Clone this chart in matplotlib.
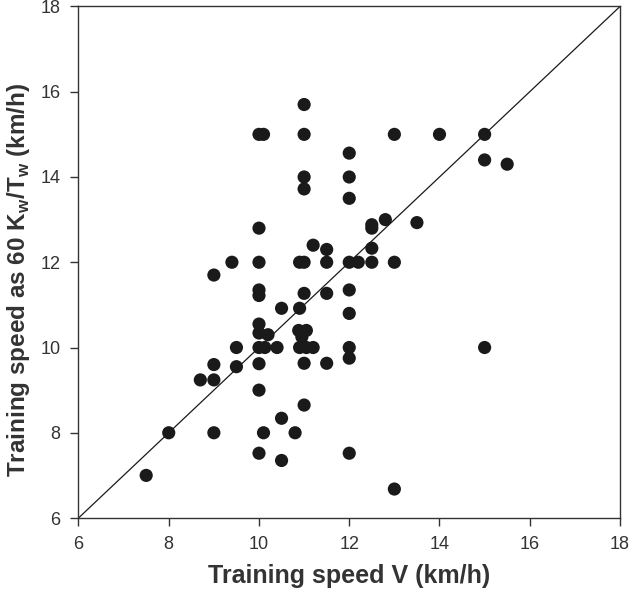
import matplotlib
matplotlib.use("Agg")
import matplotlib.pyplot as plt

plt.rcParams['font.family'] = ['Liberation Sans', 'DejaVu Sans']
plt.rcParams['mathtext.fontset'] = 'custom'
plt.rcParams['mathtext.bf'] = 'Liberation Sans:bold'
plt.rcParams['mathtext.rm'] = 'Liberation Sans'

speed_v = [7.5, 8.0, 8.7, 9.0, 9.0, 9.0, 9.0, 9.4, 9.5, 9.5,
           10.0, 10.1, 10.0, 10.0, 10.0, 10.0, 10.0, 10.0, 10.2, 10.0,
           10.13, 10.0, 10.0, 10.0, 10.1, 10.4, 10.5, 10.5, 10.5, 10.8,
           10.9, 10.88, 11.05, 10.95, 10.9, 11.05, 11.2, 11.0, 11.0, 11.0,
           11.0, 11.0, 11.0, 10.9, 11.0, 11.2, 11.0, 11.5, 11.5, 11.5,
           11.5, 12.0, 12.0, 12.0, 12.0, 12.2, 12.0, 12.0, 12.0, 12.0,
           12.0, 12.5, 12.5, 12.5, 12.5, 12.8, 13.0, 13.0, 13.0, 13.5,
           14.0, 15.0, 15.0, 15.5, 15.0]
speed_kw = [7.0, 8.0, 9.24, 9.24, 9.6, 8.0, 11.7, 12.0, 10.0, 9.55,
            15.0, 15.0, 12.8, 12.0, 11.35, 11.22, 10.55, 10.34, 10.3, 10.0,
            10.0, 9.62, 9.0, 7.52, 8.0, 10.0, 10.92, 8.34, 7.35, 8.0,
            10.92, 10.4, 10.4, 10.25, 10.0, 10.0, 10.0, 9.63, 8.65, 15.7,
            15.0, 14.0, 13.72, 12.0, 12.0, 12.4, 11.27, 11.27, 12.3, 12.0,
            9.63, 14.56, 14.0, 13.5, 12.0, 12.0, 11.35, 10.8, 10.0, 9.75,
            7.52, 12.88, 12.8, 12.33, 12.0, 13.0, 15.0, 12.0, 6.68, 12.93,
            15.0, 15.0, 14.4, 14.3, 10.0]
identity = [6, 18]
ticks = [6, 8, 10, 12, 14, 16, 18]

fig = plt.figure(figsize=(6.3, 5.89), dpi=100)
ax = fig.add_axes([0.1246, 0.1205, 0.8595, 0.8685])
ax.plot(identity, identity, color='#1a1a1a', lw=0.9, zorder=1)
ax.scatter(speed_v, speed_kw, s=90, color='#1a1a1a', edgecolors='none', zorder=2)
ax.set_xlim(6, 18)
ax.set_ylim(6, 18)
ax.set_xticks(ticks)
ax.set_yticks(ticks)
ax.tick_params(direction='out', length=6, width=1, labelsize=13, color='#333333',
               labelcolor='#333333', pad=7)
for s in ax.spines.values():
    s.set_linewidth(1.0)
    s.set_color('#333333')
ax.set_xlabel('Training speed V (km/h)', fontsize=18, fontweight='bold', color='#333333', labelpad=8)
ax.set_ylabel('Training speed as 60 K$_\\mathbf{w}$/T$_\\mathbf{w}$ (km/h)', fontsize=17.5,
              fontweight='bold', color='#333333')
ax.yaxis.set_label_coords(-0.086, 0.465)
fig.savefig('out.png', dpi=100)
